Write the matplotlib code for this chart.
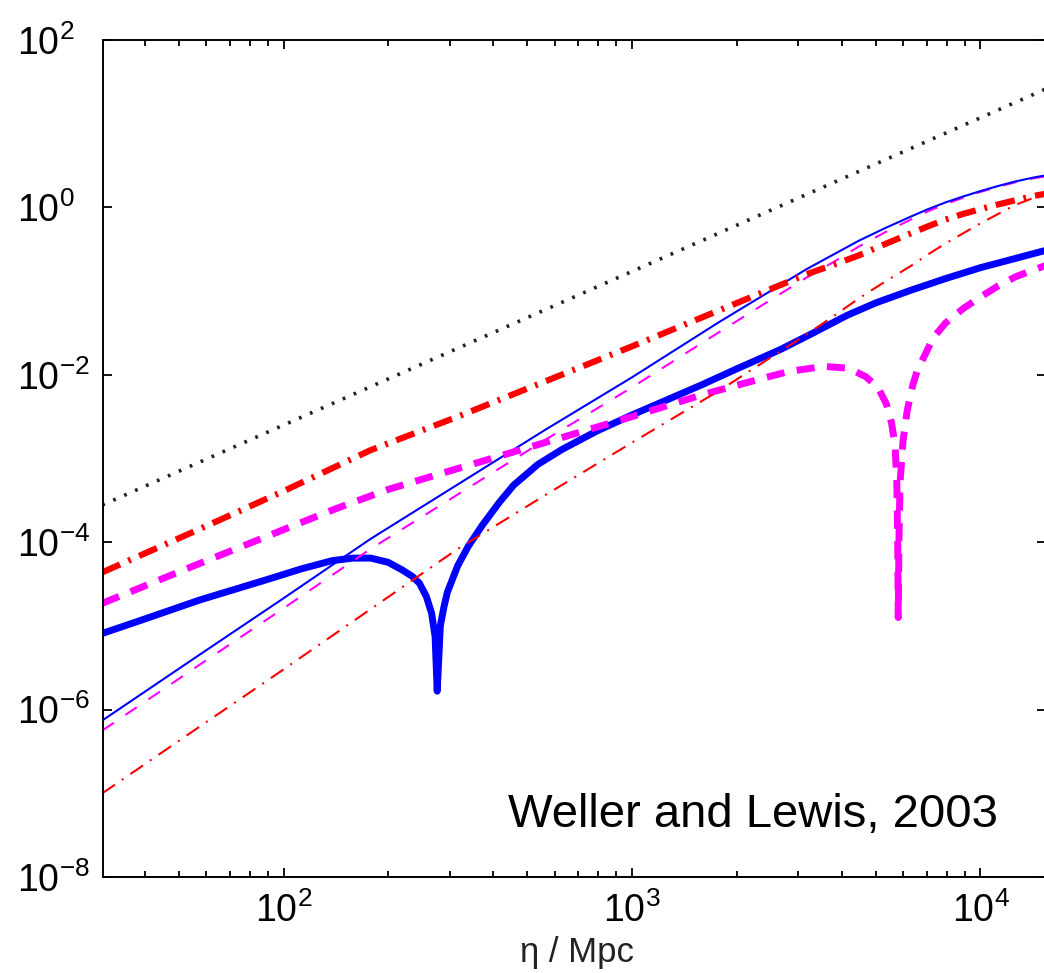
import numpy as np
import matplotlib.pyplot as plt
from matplotlib.ticker import LogLocator, NullFormatter, NullLocator

plt.rcParams['font.family'] = 'Liberation Sans'
plt.rcParams['mathtext.fontset'] = 'custom'
plt.rcParams['mathtext.rm'] = 'Liberation Sans'
plt.rcParams['mathtext.it'] = 'Liberation Sans:italic'
plt.rcParams['mathtext.default'] = 'regular'
plt.rcParams['lines.scale_dashes'] = False

# values, stored as log10(eta / Mpc) and log10(y)
grid_logx = [1.48, 1.75, 2.0, 2.25, 2.5, 2.75, 3.0, 3.25, 3.5, 3.575, 3.65, 3.725, 3.8, 3.85,
             3.9, 3.95, 4.0, 4.05, 4.1, 4.15, 4.19]

dotted_logx = [1.48, 2.5, 3.5, 4.19]
dotted_logy = [-3.556, -1.683, 0.153, 1.42]

thin_blue_logy = [-6.13, -5.37, -4.67, -3.96, -3.31, -2.66, -2.03, -1.37, -0.74, -0.57, -0.40, -0.25, -0.11, -0.02,
                  0.06, 0.13, 0.195, 0.255, 0.31, 0.355, 0.385]
thin_magenta_logy = [-6.25, -5.49, -4.79, -4.08, -3.43, -2.78, -2.15, -1.49, -0.84, -0.66, -0.47, -0.30, -0.145, -0.045,
                     0.04, 0.115, 0.185, 0.245, 0.30, 0.345, 0.375]
thin_red_logy = [-7.0, -6.23, -5.52, -4.80, -4.08, -3.44, -2.81, -2.19, -1.52, -1.31, -1.09, -0.89, -0.70, -0.56,
                 -0.43, -0.31, -0.19, -0.08, 0.03, 0.11, 0.15]
thick_red_logy = [-4.36, -3.86, -3.39, -2.90, -2.50, -2.08, -1.66, -1.23, -0.80, -0.69, -0.575, -0.44, -0.31, -0.225,
                  -0.145, -0.078, -0.02, 0.035, 0.085, 0.135, 0.165]

thick_magenta_logx = [1.48, 1.75, 2.0, 2.15, 2.3, 2.5, 2.75, 3.0, 3.2, 3.35, 3.45, 3.55, 3.62, 3.67,
                      3.706, 3.73, 3.745, 3.755, 3.76, 3.7625, 3.764, 3.766, 3.769, 3.778, 3.79,
                      3.806, 3.82, 3.841, 3.864, 3.9, 3.95, 4.0, 4.05, 4.1, 4.15, 4.19]
thick_magenta_logy = [-4.73, -4.27, -3.85, -3.60, -3.37, -3.12, -2.81, -2.50, -2.24, -2.07, -1.96, -1.90, -1.92, -2.02,
                      -2.15, -2.35, -2.58, -2.85, -3.3, -4.0, -4.9, -4.0, -3.3, -2.78, -2.42,
                      -2.12, -1.93, -1.76, -1.56, -1.38, -1.21, -1.07, -0.94, -0.83, -0.75, -0.69]

thick_blue_logx = [1.48, 1.6, 1.76, 1.95, 2.05, 2.14, 2.2, 2.25, 2.3, 2.34, 2.37, 2.39, 2.41, 2.425, 2.435, 2.441,
                   2.45, 2.46, 2.47, 2.50, 2.53, 2.57, 2.62, 2.66, 2.73, 2.80, 2.9, 3.0, 3.1, 3.2, 3.3,
                   3.425, 3.52, 3.617, 3.7, 3.8, 3.9, 4.0, 4.1, 4.19]
thick_blue_logy = [-5.09, -4.92, -4.69, -4.45, -4.32, -4.22, -4.19, -4.19, -4.24, -4.33, -4.41, -4.49, -4.65, -4.85, -5.13, -5.78,
                   -5.0, -4.78, -4.60, -4.28, -4.05, -3.80, -3.52, -3.32, -3.07, -2.89, -2.67, -2.48, -2.30, -2.12, -1.93,
                   -1.70, -1.50, -1.29, -1.14, -0.99, -0.85, -0.72, -0.61, -0.51]

y_ticks = [1e-8, 1e-6, 1e-4, 1e-2, 1e0, 1e2]


def p(v):
    return np.power(10.0, np.asarray(v))


fig = plt.figure(figsize=(10.44, 9.73), dpi=100)
ax = fig.add_axes([103 / 1044, 96 / 973, (1046 - 103) / 1044, (877 - 40) / 973])

ax.plot(p(thick_blue_logx), p(thick_blue_logy), color='#0000ff', lw=5.0, solid_capstyle='butt', solid_joinstyle='round')
ax.plot(p(grid_logx), p(thin_magenta_logy), color='#ff00ff', lw=1.5, dashes=(10, 10))
ax.plot(p(grid_logx), p(thin_blue_logy), color='#0000ff', lw=1.5)
ax.plot(p(thick_magenta_logx), p(thick_magenta_logy), color='#ff00ff', lw=5.0, dashes=(13, 9), dash_capstyle='butt')
ax.plot(p(grid_logx), p(thick_red_logy), color='#ff0000', lw=4.5, dashes=(14, 6.5, 2, 6.5), dash_capstyle='butt')
ax.plot(p(grid_logx), p(thin_red_logy), color='#ff0000', lw=1.5, dashes=(11, 6, 1.5, 6))
ax.plot(p(dotted_logx), p(dotted_logy), color='#222222', lw=2.6, dashes=(2.0, 6.6))

ax.set_xscale('log')
ax.set_yscale('log')
ax.set_xlim(10 ** 1.482, 10 ** 4.188)
ax.set_ylim(1e-8, 1e2)

ax.xaxis.set_major_locator(LogLocator(base=10))
ax.xaxis.set_minor_locator(LogLocator(base=10, subs=np.arange(2, 10)))
ax.xaxis.set_minor_formatter(NullFormatter())
ax.set_yticks(y_ticks)
ax.yaxis.set_minor_locator(NullLocator())

for s in ax.spines.values():
    s.set_linewidth(1.4)
ax.tick_params(which='both', direction='in', top=True, right=True, width=1.3, labelsize=27)
ax.tick_params(which='major', length=6.5)
ax.tick_params(which='minor', length=4.5)
ax.tick_params(axis='x', pad=11)
ax.tick_params(axis='y', pad=62)
for lbl in ax.get_yticklabels():
    lbl.set_horizontalalignment('left')

ax.set_xlabel('η / Mpc', fontsize=25, color='#222222')
ax.xaxis.set_label_coords((577 - 103) / 943, -(936 - 877) / 837)

fig.text(508 / 1044, (973 - 827) / 973, 'Weller and Lewis, 2003', fontsize=34, va='baseline', ha='left')

fig.savefig('out.png', dpi=100)
